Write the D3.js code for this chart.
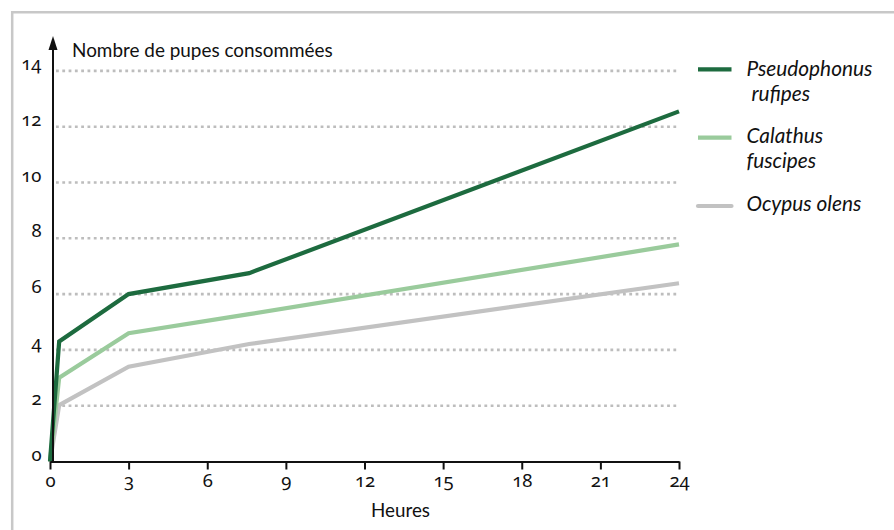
<!DOCTYPE html>
<html><head><meta charset="utf-8">
<script src="https://cdn.jsdelivr.net/npm/d3@7/dist/d3.min.js"></script>
<style>
html,body{margin:0;padding:0;background:#fff;}
svg{display:block;}
text{font-family:"Lato","Open Sans",sans-serif;fill:#111;}
.num{font-family:"Noto Sans",sans-serif;font-variant-numeric:oldstyle-nums;font-feature-settings:"onum" 1;}
</style></head><body>
<svg id="c" width="894" height="530"></svg>
<script>
const hours = [0, 0.35, 3, 7.6, 24];
const pseudophonus = [0, 4.3, 6.0, 6.75, 12.55];
const calathus = [0, 3.0, 4.6, 5.28, 7.78];
const ocypus = [0, 2.02, 3.4, 4.21, 6.39];
const seriesNames = [["Pseudophonus", "rufipes"], ["Calathus", "fuscipes"], ["Ocypus olens"]];
const seriesColors = ["#1d6b3f", "#9acb9c", "#c2c2c2"];
const xTicks = [0, 3, 6, 9, 12, 15, 18, 21, 24];
const yTicks = [0, 2, 4, 6, 8, 10, 12, 14];
const yTitle = "Nombre de pupes consommées";
const xTitle = "Heures";

const svg = d3.select("#c");
// frame
svg.append("path").attr("d","M12.2,530 V12.2 H894").attr("fill","none").attr("stroke","#c8c8c8").attr("stroke-width",2.5);

const x = d3.scaleLinear().domain([0,24]).range([50,679]);
const y = d3.scaleLinear().domain([0,14]).range([461.5,70.9]);

// gridlines
svg.append("g").selectAll("line").data(yTicks.filter(d=>d>0)).join("line")
  .attr("x1",56).attr("x2",679).attr("y1",d=>y(d)).attr("y2",d=>y(d))
  .attr("stroke","#bdbdbd").attr("stroke-width",2.6).attr("stroke-dasharray","2.8 3.5");

// series lines
const all = [pseudophonus, calathus, ocypus];
const line = d3.line().x((d,i)=>x(hours[i])).y(d=>y(d));
[2,1,0].forEach(k=>{
  svg.append("path").attr("d",line(all[k])).attr("fill","none")
    .attr("stroke",seriesColors[k]).attr("stroke-width",4.2).attr("stroke-linejoin","miter");
});

// x axis
const xg = svg.append("g").attr("transform",`translate(0,${y(0)})`)
  .call(d3.axisBottom(x).tickValues(xTicks).tickSize(8).tickPadding(6).tickSizeOuter(0));
xg.select(".domain").attr("stroke","#111").attr("stroke-width",2.2);
xg.selectAll(".tick line").attr("stroke","#111").attr("stroke-width",2);
xg.selectAll(".tick text").attr("class","num").attr("font-size",18.5).attr("fill","#111").attr("dy",null).attr("y",25.5);

// y axis
svg.append("line").attr("x1",53).attr("x2",53).attr("y1",y(0)+1).attr("y2",46).attr("stroke","#111").attr("stroke-width",2);
svg.append("path").attr("d","M53,36 L57.5,50 L48.5,50 Z").attr("fill","#111");
const yg = svg.append("g").attr("transform","translate(41.5,0)")
  .call(d3.axisLeft(y).tickValues(yTicks).tickSize(0).tickPadding(0));
yg.select(".domain").remove();
yg.selectAll(".tick text").attr("class","num").attr("font-size",18.5).attr("fill","#111").attr("dy",null).attr("y",-1.5);

function fit(t, w){ const n=t.node(); const l=n.getComputedTextLength(); const fs=+t.attr("font-size"); t.attr("font-size", fs*w/l); }

const yt = svg.append("text").attr("x",72).attr("y",57).attr("font-size",17).text(yTitle);
fit(yt,261);
const xt = svg.append("text").attr("x",400.5).attr("y",517).attr("text-anchor","middle").attr("font-size",17).text(xTitle);
fit(xt,59);

// legend
const legY = [69.3, 137.7, 206];
const lg = svg.append("g");
seriesNames.forEach((nm,k)=>{
  lg.append("line").attr("x1",698).attr("x2",731.5).attr("y1",legY[k]).attr("y2",legY[k])
    .attr("stroke",seriesColors[k]).attr("stroke-width",4.2).attr("stroke-linecap",k==2?"round":"butt");
});
const l1 = lg.append("text").attr("x",746.5).attr("y",75.5).attr("font-style","italic").attr("font-size",17).text(seriesNames[0][0]);
fit(l1,126);
const fsLeg = +l1.attr("font-size");
lg.append("text").attr("x",751.5).attr("y",101).attr("font-style","italic").attr("font-size",fsLeg).text(seriesNames[0][1]);
lg.append("text").attr("x",746.5).attr("y",143).attr("font-style","italic").attr("font-size",fsLeg).text(seriesNames[1][0]);
lg.append("text").attr("x",746.5).attr("y",168).attr("font-style","italic").attr("font-size",fsLeg).text(seriesNames[1][1]);
lg.append("text").attr("x",746.5).attr("y",210.5).attr("font-style","italic").attr("font-size",fsLeg).text(seriesNames[2][0]);
</script>
</body></html>
